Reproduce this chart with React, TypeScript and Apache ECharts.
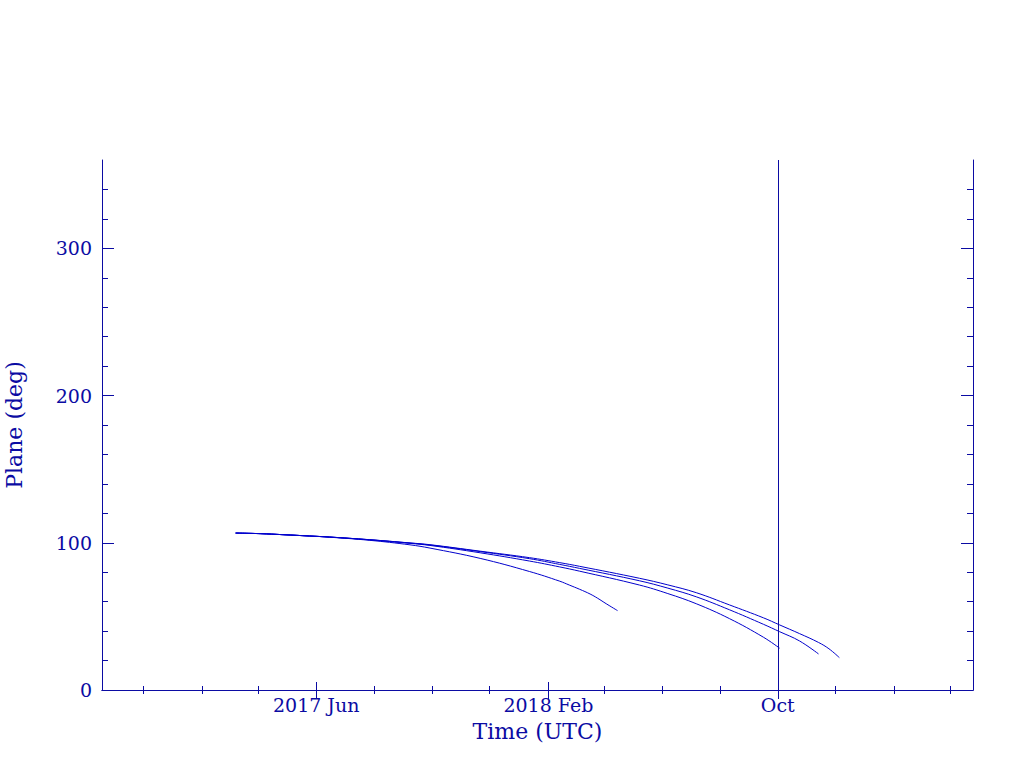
import React, { useEffect, useRef } from "react";
import * as echarts from "echarts";

const X_MIN = "2016-10-18";
const X_MAX = "2019-04-25";
const MARKER_DATE = "2018-10-01";

const majorTickDates = ["2017-06-01", "2018-02-01", "2018-10-01"];
const majorTickLabels = ["2017 Jun", "2018 Feb", "Oct"];
const minorTickDates = [
  "2016-12-01", "2017-02-01", "2017-04-01", "2017-08-01", "2017-10-01",
  "2017-12-01", "2018-04-01", "2018-06-01", "2018-08-01", "2018-12-01",
  "2019-02-01", "2019-04-01",
];
const yMajorTicks = [0, 100, 200, 300];
const yMinorTicks = [20, 40, 60, 80, 120, 140, 160, 180, 220, 240, 260, 280, 320, 340];

const curveA: [string, number][] = [
  ["2017-03-08", 106.6], ["2017-04-03", 106.2], ["2017-04-27", 105.5],
  ["2017-05-25", 104.6], ["2017-06-15", 103.8], ["2017-07-27", 101.7],
  ["2017-09-08", 98.6], ["2017-09-29", 96.4], ["2017-11-21", 89.4],
  ["2018-01-12", 80.5], ["2018-02-13", 73.9], ["2018-02-23", 71.3],
  ["2018-03-06", 68.4], ["2018-03-17", 65.2], ["2018-03-25", 62.3],
  ["2018-04-03", 58.6], ["2018-04-15", 53.9],
];
const curveB: [string, number][] = [
  ["2017-03-08", 106.6], ["2017-04-03", 106.2], ["2017-04-27", 105.5],
  ["2017-05-25", 104.6], ["2017-06-15", 103.9], ["2017-07-27", 102.0],
  ["2017-09-08", 99.6], ["2017-09-29", 98.2], ["2017-11-21", 93.2],
  ["2018-01-12", 87.6], ["2018-02-13", 83.6], ["2018-03-06", 80.7],
  ["2018-05-08", 71.3], ["2018-06-07", 65.5], ["2018-07-07", 58.6],
  ["2018-08-11", 48.5], ["2018-09-16", 35.8], ["2018-10-03", 28.4],
];
const curveC: [string, number][] = [
  ["2017-03-08", 106.6], ["2017-04-03", 106.2], ["2017-04-27", 105.5],
  ["2017-05-25", 104.6], ["2017-06-15", 103.9], ["2017-07-27", 102.1],
  ["2017-09-08", 99.8], ["2017-09-29", 98.5], ["2017-11-21", 94.0],
  ["2018-01-12", 89.2], ["2018-02-13", 85.3], ["2018-03-06", 82.6],
  ["2018-05-08", 74.2], ["2018-06-07", 69.2], ["2018-07-07", 63.3],
  ["2018-08-11", 54.5], ["2018-09-16", 44.6], ["2018-10-03", 39.6],
  ["2018-10-24", 33.3], ["2018-11-13", 24.5],
];
const curveD: [string, number][] = [
  ["2017-03-08", 106.6], ["2017-04-03", 106.2], ["2017-04-27", 105.5],
  ["2017-05-25", 104.6], ["2017-06-15", 103.9], ["2017-07-27", 102.1],
  ["2017-09-08", 99.9], ["2017-09-29", 98.7], ["2017-11-21", 94.3],
  ["2018-01-12", 89.9], ["2018-02-13", 86.5], ["2018-03-06", 84.0],
  ["2018-05-08", 75.9], ["2018-06-07", 71.4], ["2018-07-07", 66.1],
  ["2018-08-11", 57.8], ["2018-09-16", 49.0], ["2018-10-03", 44.2],
  ["2018-10-24", 38.3], ["2018-11-13", 32.3], ["2018-11-24", 28.0],
  ["2018-12-05", 22.0],
];

const AXIS_COLOR = "#0b0ba3";
const LINE_COLOR = "#0000cc";
const FONT = "DejaVu Serif";

const ts = (d: string) => new Date(d + "T00:00:00").getTime();

export default function App() {
  const ref = useRef<HTMLDivElement>(null);
  useEffect(() => {
    if (!ref.current) return;
    const chart = echarts.init(ref.current, null, { renderer: "svg" });
    const xmin = ts(X_MIN);
    const xmax = ts(X_MAX);
    const majorX = majorTickDates.map(ts);
    const minorX = minorTickDates.map(ts);
    const line = { show: true, lineStyle: { color: AXIS_COLOR, width: 1 } };
    const noLine = { show: false };
    const baseX = (position: string, vals: number[], len: number, showLine: boolean, labels: boolean) => ({
      type: "value",
      position,
      min: xmin,
      max: xmax,
      axisLine: showLine ? line : noLine,
      axisTick: { show: true, inside: true, length: len, customValues: vals, lineStyle: { color: AXIS_COLOR, width: 1 } },
      axisLabel: labels
        ? {
            show: true,
            customValues: vals,
            margin: 5,
            color: AXIS_COLOR,
            fontFamily: FONT,
            fontSize: 19,
            formatter: (v: number) => {
              const i = majorX.findIndex((m) => Math.abs(m - v) < 3600000);
              return i >= 0 ? majorTickLabels[i] : "";
            },
          }
        : { show: false },
      splitLine: { show: false },
    });
    const baseY = (position: string, vals: number[], len: number, showLine: boolean, labels: boolean) => ({
      type: "value",
      position,
      min: 0,
      max: 360,
      axisLine: showLine ? line : noLine,
      axisTick: { show: true, inside: true, length: len, customValues: vals, lineStyle: { color: AXIS_COLOR, width: 1 } },
      axisLabel: labels
        ? { show: true, customValues: vals, margin: 10, color: AXIS_COLOR, fontFamily: FONT, fontSize: 19 }
        : { show: false },
      splitLine: { show: false },
    });
    const xAxes: any[] = [
      {
        ...baseX("bottom", majorX, 8, true, true),
        name: "Time (UTC)",
        nameLocation: "middle",
        nameGap: 30,
        nameTextStyle: { color: AXIS_COLOR, fontFamily: FONT, fontSize: 22 },
      },
      baseX("bottom", minorX, 4, false, false),
      baseX("top", majorX, 9, true, false),
      baseX("top", minorX, 4, false, false),
    ];
    const yAxes: any[] = [
      {
        ...baseY("left", yMajorTicks, 12, true, true),
        name: "Plane (deg)",
        nameLocation: "middle",
        nameGap: 77,
        nameTextStyle: { color: AXIS_COLOR, fontFamily: FONT, fontSize: 22 },
      },
      baseY("left", yMinorTicks, 6, false, false),
      baseY("right", yMajorTicks, 12, true, false),
      baseY("right", yMinorTicks, 6, false, false),
    ];
    const mk = (data: [string, number][], withMark: boolean) => ({
      type: "line",
      xAxisIndex: 0,
      yAxisIndex: 0,
      data: data.map(([d, v]) => [ts(d), v]),
      showSymbol: false,
      symbol: "none",
      smooth: 0.4,
      lineStyle: { color: LINE_COLOR, width: 1 },
      itemStyle: { color: LINE_COLOR },
      silent: true,
      markLine: withMark
        ? {
            silent: true,
            symbol: ["none", "none"],
            label: { show: false },
            lineStyle: { color: AXIS_COLOR, width: 1, type: "solid" },
            data: [{ xAxis: ts(MARKER_DATE) }],
          }
        : undefined,
    });
    chart.setOption({
      animation: false,
      backgroundColor: "#ffffff",
      grid: {
        left: 102,
        top: 160,
        width: 871,
        height: 530,
        containLabel: false,
        outerBoundsMode: "none",
      },
      xAxis: xAxes,
      yAxis: yAxes,
      series: [mk(curveA, false), mk(curveB, false), mk(curveC, false), mk(curveD, true)],
    });
    return () => chart.dispose();
  }, []);
  return (
    <div
      ref={ref}
      style={{ position: "absolute", left: 0, top: 0, width: 1024, height: 768, background: "#fff" }}
    />
  );
}
